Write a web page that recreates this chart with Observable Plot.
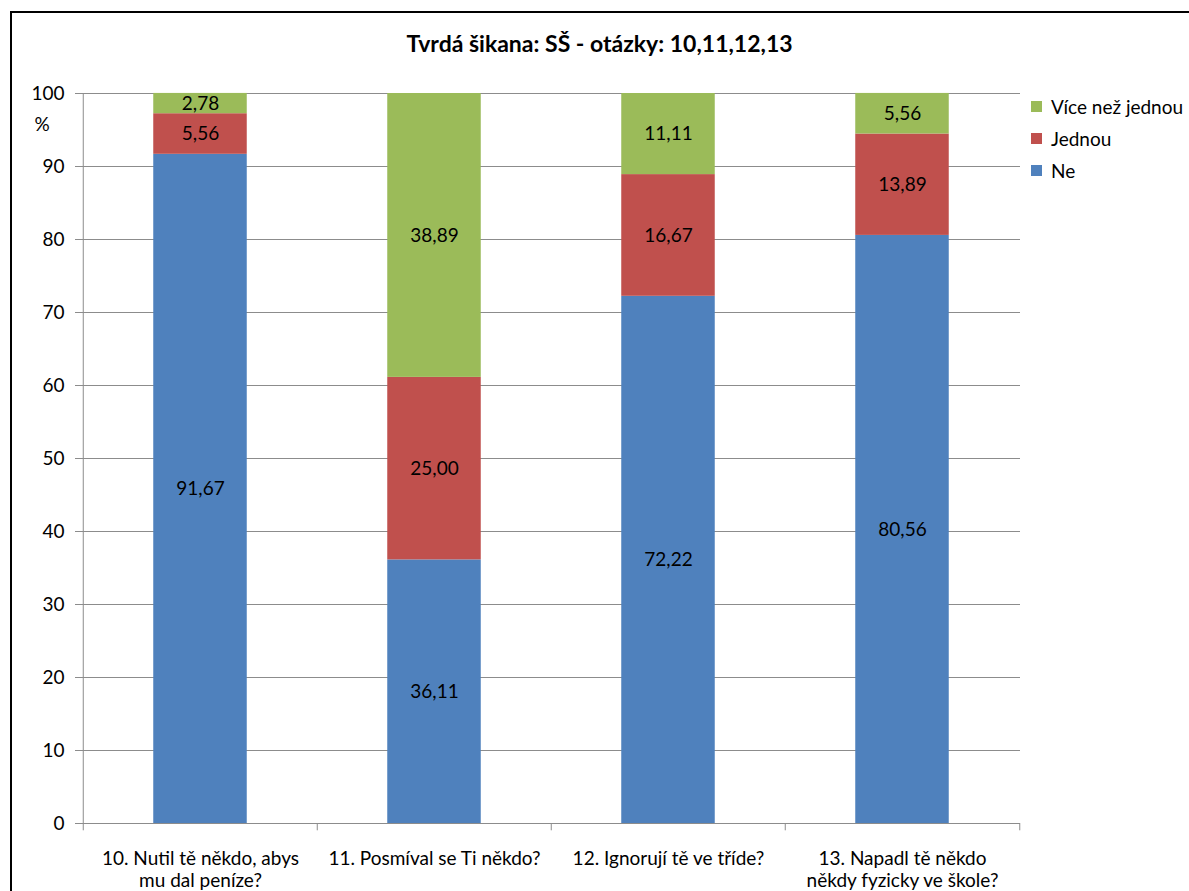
<!DOCTYPE html>
<html><head><meta charset="utf-8">
<script src="https://cdn.jsdelivr.net/npm/d3@7"></script>
<script src="https://cdn.jsdelivr.net/npm/@observablehq/plot@0.6"></script>
<style>
body{margin:0;background:#fff;font-family:Lato,"Open Sans",sans-serif;}
#wrap{position:relative;width:1189px;height:891px;overflow:hidden;}
#border{position:absolute;left:10px;top:11px;width:1300px;height:1000px;border:2.5px solid #000;box-sizing:border-box;}
#title{position:absolute;left:0;width:1199px;top:30px;line-height:26px;text-align:center;font-weight:bold;font-size:23px;}
#legend{position:absolute;left:1031px;top:90px;font-size:19px;}
#legend div{height:32px;display:flex;align-items:center;}
#legend span.sw{width:11px;height:11px;display:inline-block;margin-right:9px;}
#chart{position:absolute;left:0;top:0;}
</style></head>
<body><div id="wrap"><div id="border"></div><div id="chart"></div><div id="title"></div><div id="legend"></div></div>
<script>
const title = "Tvrdá šikana: SŠ - otázky: 10,11,12,13";
const categories = ["10. Nutil tě někdo, abys\nmu dal peníze?", "11. Posmíval se Ti někdo?", "12. Ignorují tě ve tříde?", "13. Napadl tě někdo\nněkdy fyzicky ve škole?"];
const seriesNames = ["Ne", "Jednou", "Více než jednou"];
const colors = ["#4F81BD", "#C0504D", "#9BBB59"];
const ne = [91.67, 36.11, 72.22, 80.56];
const jednou = [5.56, 25.00, 16.67, 13.89];
const vice = [2.78, 38.89, 11.11, 5.56];
const yTicks = [0,10,20,30,40,50,60,70,80,90,100];

const seriesValues = [ne, jednou, vice];
const data = [];
seriesNames.forEach((s, i) => categories.forEach((c, j) => data.push({cat: c, series: s, value: seriesValues[i][j]})));

const W = 1189, H = 891, mL = 82, mR = 169, mT = 93, mB = 68;
const half = (W - mL - mR) / categories.length / 2;
const fmt = v => v.toFixed(2).replace(".", ",");
const grid = "#8c8c8c";
const FS = 19;

document.getElementById("title").textContent = title;
const leg = document.getElementById("legend");
[2,1,0].forEach(i => {
  const d = document.createElement("div");
  d.innerHTML = `<span class="sw" style="background:${colors[i]}"></span>${seriesNames[i]}`;
  leg.appendChild(d);
});

const chart = Plot.plot({
  width: W, height: H,
  marginLeft: mL, marginRight: mR, marginTop: mT, marginBottom: mB,
  style: {fontFamily: "Lato, 'Open Sans', sans-serif", fontSize: FS + "px", color: "#000", background: "transparent"},
  x: {domain: categories, padding: 0, axis: null},
  y: {domain: [0, 100], axis: null},
  color: {domain: seriesNames, range: colors},
  marks: [
    Plot.gridY(yTicks.slice(1), {stroke: grid, strokeOpacity: 1, strokeWidth: 1}),
    Plot.ruleY([0], {stroke: grid, strokeWidth: 1}),
    Plot.ruleX([categories[0]], {dx: -half, y1: 0, y2: 100, stroke: grid}),
    Plot.ruleX(categories, {dx: -half, y1: 0, y2: -1, stroke: grid}),
    Plot.ruleX([categories[categories.length-1]], {dx: half, y1: 0, y2: -1, stroke: grid}),
    Plot.axisY(yTicks, {tickSize: 7, tickPadding: 11, stroke: grid, fill: "#000", fontSize: FS, label: null}),
    Plot.text(["%"], {frameAnchor: "top-left", dx: -48, dy: 24, fontSize: FS, fill: "#000"}),
    Plot.barY(data, {x: "cat", y: "value", fill: "series", insetLeft: half - 47, insetRight: half - 47}),
    Plot.text(data, Plot.stackY({x: "cat", y: "value", z: "series", text: d => fmt(d.value), fill: "#000", fontSize: FS})),
    Plot.text(categories, {x: d => d, frameAnchor: "bottom", dy: 25, text: d => d, lineAnchor: "top", fontSize: FS, fill: "#000", lineHeight: 1.2})
  ]
});
document.getElementById("chart").appendChild(chart);
</script></body></html>
